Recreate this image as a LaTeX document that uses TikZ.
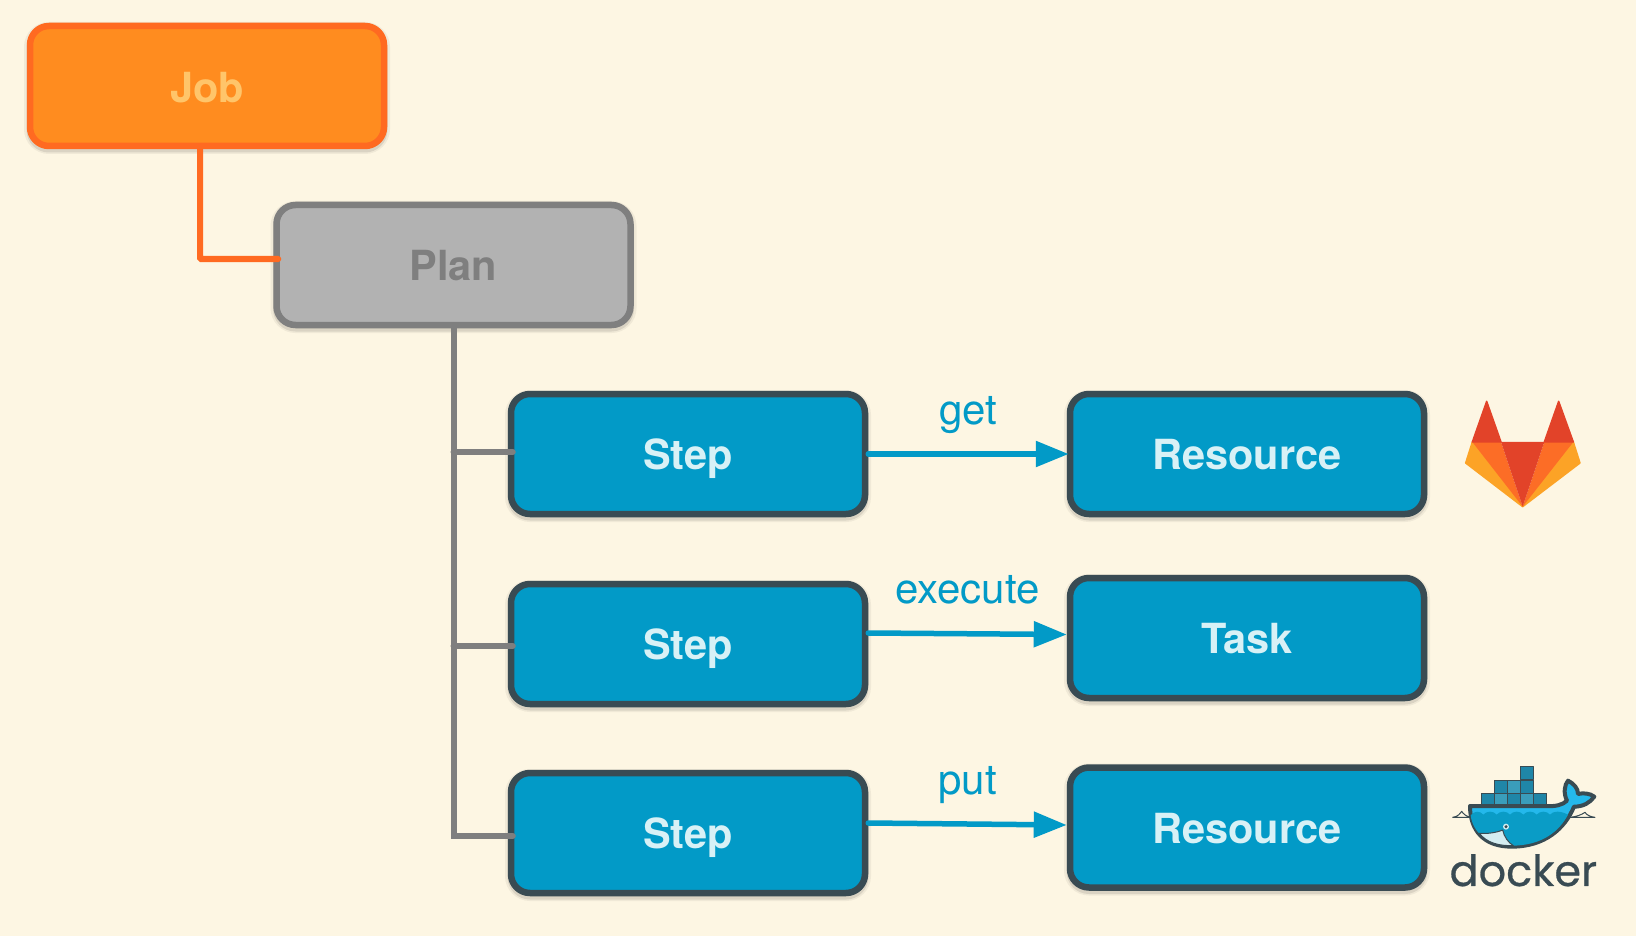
\documentclass[tikz,border=0pt]{standalone}
\usepackage{fontspec}
\setmainfont{TeX Gyre Heros}
\newfontfamily\dockerfont[FakeBold=0.6]{Poppins}
\usetikzlibrary{arrows.meta,shadows}
\definecolor{paper}{HTML}{FDF6E3}
\definecolor{jobfill}{HTML}{FF8C1F}
\definecolor{jobline}{HTML}{FF6A21}
\definecolor{jobtext}{HTML}{FFC56A}
\definecolor{planfill}{HTML}{B2B2B2}
\definecolor{planline}{HTML}{7F7F7F}
\definecolor{steptext}{HTML}{D8F1F6}
\definecolor{stepfill}{HTML}{029AC7}
\definecolor{stepline}{HTML}{394B53}
\definecolor{labrust}{HTML}{E24329}
\definecolor{laborange}{HTML}{FC6D26}
\definecolor{labyellow}{HTML}{FCA326}
\definecolor{whalelight}{HTML}{24B8EB}
\definecolor{whaledark}{HTML}{0A9CC6}
\definecolor{crate}{HTML}{1F86A8}
\definecolor{cratelight}{HTML}{3A9DBB}
\definecolor{bellyfill}{HTML}{D4EDF1}

\begin{document}
\begin{tikzpicture}[x=1pt,y=-1pt,>={Triangle[length=33pt,width=25pt]},line cap=round,
    node distance=559pt,
    box/.style={rectangle,rounded corners=19pt,line width=6.5pt,minimum width=354pt,
      minimum height=120pt,inner sep=0pt,text height=31pt,text depth=0pt,
      font=\fontsize{41.5}{41.5}\selectfont\bfseries,
      drop shadow={shadow xshift=0pt,shadow yshift=-2pt,opacity=.05,draw=black,line width=12pt},
      drop shadow={shadow xshift=0pt,shadow yshift=-3pt,opacity=.09,draw=black,line width=7pt}},
    job node/.style={box,fill=jobfill,draw=jobline,text=jobtext,text height=33pt},
    plan node/.style={box,fill=planfill,draw=planline,text=planline},
    work node/.style={box,fill=stepfill,draw=stepline,text=steptext},
    tree line/.style={line width=6pt},
    call line/.style={->,line width=5.5pt,draw=stepfill},
    call label/.style={midway,anchor=base,yshift=30pt,text=stepfill,font=\fontsize{42}{42}\selectfont}]
    \fill[paper] (0,0) rectangle (1636,936);
    \useasboundingbox (0,0) rectangle (1636,936);

    \node[job node] (job) at (207,86) {Job};
    \node[plan node] (plan) at (453.5,265) {Plan};
    \node[work node] (step1) at (688,454) {Step};
    \node[work node] (step2) at (688,644) {Step};
    \node[work node] (step3) at (688,833) {Step};
    \node[work node] (res1) [right of=step1] {Resource};
    \node[work node] (task) at (1247,638) {Task};
    \node[work node] (res2) at (1247,827.5) {Resource};

    \draw[tree line,draw=jobline,rounded corners=1pt] ([xshift=-7pt]job.south) |- ([yshift=6pt,xshift=5pt]plan.west);
    \draw[tree line,draw=planline] (plan.south) |- ([yshift=-3pt,xshift=5pt]step3.west);
    \draw[tree line,draw=planline] (plan.south |- step1.west) ++(0,-2) -- ([yshift=2pt,xshift=5pt]step1.west);
    \draw[tree line,draw=planline] (plan.south |- step2.west) ++(0,2) -- ([yshift=-2pt,xshift=5pt]step2.west);

    \draw[call line] (step1.east) -- node[call label] {get} ([xshift=2pt]res1.west);
    \draw[call line] ([yshift=11pt]step2.east) -- node[call label] {execute} ([yshift=3.5pt]task.west);
    \draw[call line] ([yshift=10pt]step3.east) -- node[call label] {put} ([yshift=2.5pt]res2.west);

    % gitlab
    \begin{scope}[shift={(1430,380)},x=0.3333pt,y=-0.3333pt,line join=round]
      \fill[labyellow,draw=labyellow,line width=1.5pt] (127,186) -- (107,249) -- (278,380) -- cycle;
      \fill[labyellow,draw=labyellow,line width=1.5pt] (430,186) -- (450,249) -- (278,380) -- cycle;
      \fill[laborange] (127,186) -- (213,186) -- (278,380) -- cycle;
      \fill[laborange] (430,186) -- (343,186) -- (278,380) -- cycle;
      \fill[labrust] (213,186) -- (343,186) -- (278,380) -- cycle;
      \fill[labrust,draw=labrust,line width=1.5pt] (127,186) -- (170,64) -- (213,186) -- cycle;
      \fill[labrust,draw=labrust,line width=1.5pt] (343,186) -- (386,64) -- (430,186) -- cycle;
    \end{scope}

    % docker
    \begin{scope}[shift={(1430,750)},x=0.3333pt,y=-0.3333pt,line join=round]
      \foreach \cx/\cy/\shade in {270/50/crate,192/90/crate,232/90/cratelight,272/90/crate,153/129/crate,192/129/cratelight,232/129/crate,272/129/cratelight,311/129/crate}
        \draw[fill=\shade,draw=stepline,line width=1pt] (\cx,\cy) rectangle ++(39,39);
      \draw[stepline,line width=1pt] (68,202) .. controls (85,200) and (90,190) .. (95,184) .. controls (100,192) and (110,200) .. (122,202) -- cycle;
      \draw[stepline,line width=1pt] (420,202) .. controls (440,200) and (455,194) .. (465,187) .. controls (470,195) and (480,200) .. (495,202) -- cycle;
      \draw[fill=whalelight,draw=stepline,line width=4pt] (120,168) -- (350,168)
        .. controls (375,170) and (398,165) .. (411,152)
        .. controls (400,130) and (403,105) .. (414,92)
        .. controls (430,100) and (445,115) .. (444,132)
        .. controls (460,128) and (480,130) .. (493,140)
        .. controls (480,158) and (460,170) .. (432,170)
        .. controls (405,235) and (345,290) .. (245,290)
        .. controls (160,290) and (120,240) .. (120,168) -- cycle;
      \fill[whaledark] (122,196) .. controls (132,182) and (150,182) .. (160,194)
        .. controls (170,182) and (190,182) .. (200,194)
        .. controls (210,182) and (230,182) .. (240,194)
        .. controls (250,182) and (270,182) .. (280,194)
        .. controls (290,182) and (310,182) .. (320,194)
        .. controls (330,182) and (350,182) .. (360,194)
        .. controls (370,182) and (390,182) .. (414,194)
        .. controls (390,240) and (340,287) .. (245,287)
        .. controls (170,287) and (128,245) .. (122,196) -- cycle;
      \fill[bellyfill,draw=stepline,line width=1pt] (148,250) .. controls (170,252) and (200,248) .. (218,240)
        .. controls (222,260) and (235,278) .. (250,287)
        .. controls (205,288) and (170,278) .. (148,250) -- cycle;
      \fill[bellyfill] (228,230) circle (9);
      \fill[stepline] (228,230) circle (5);
      \node[inner sep=0pt,anchor=base,text=stepline,font=\dockerfont\fontsize{43}{43}\selectfont] (dockername) at (280,408) {docker};
    \end{scope}
\end{tikzpicture}
\end{document}
